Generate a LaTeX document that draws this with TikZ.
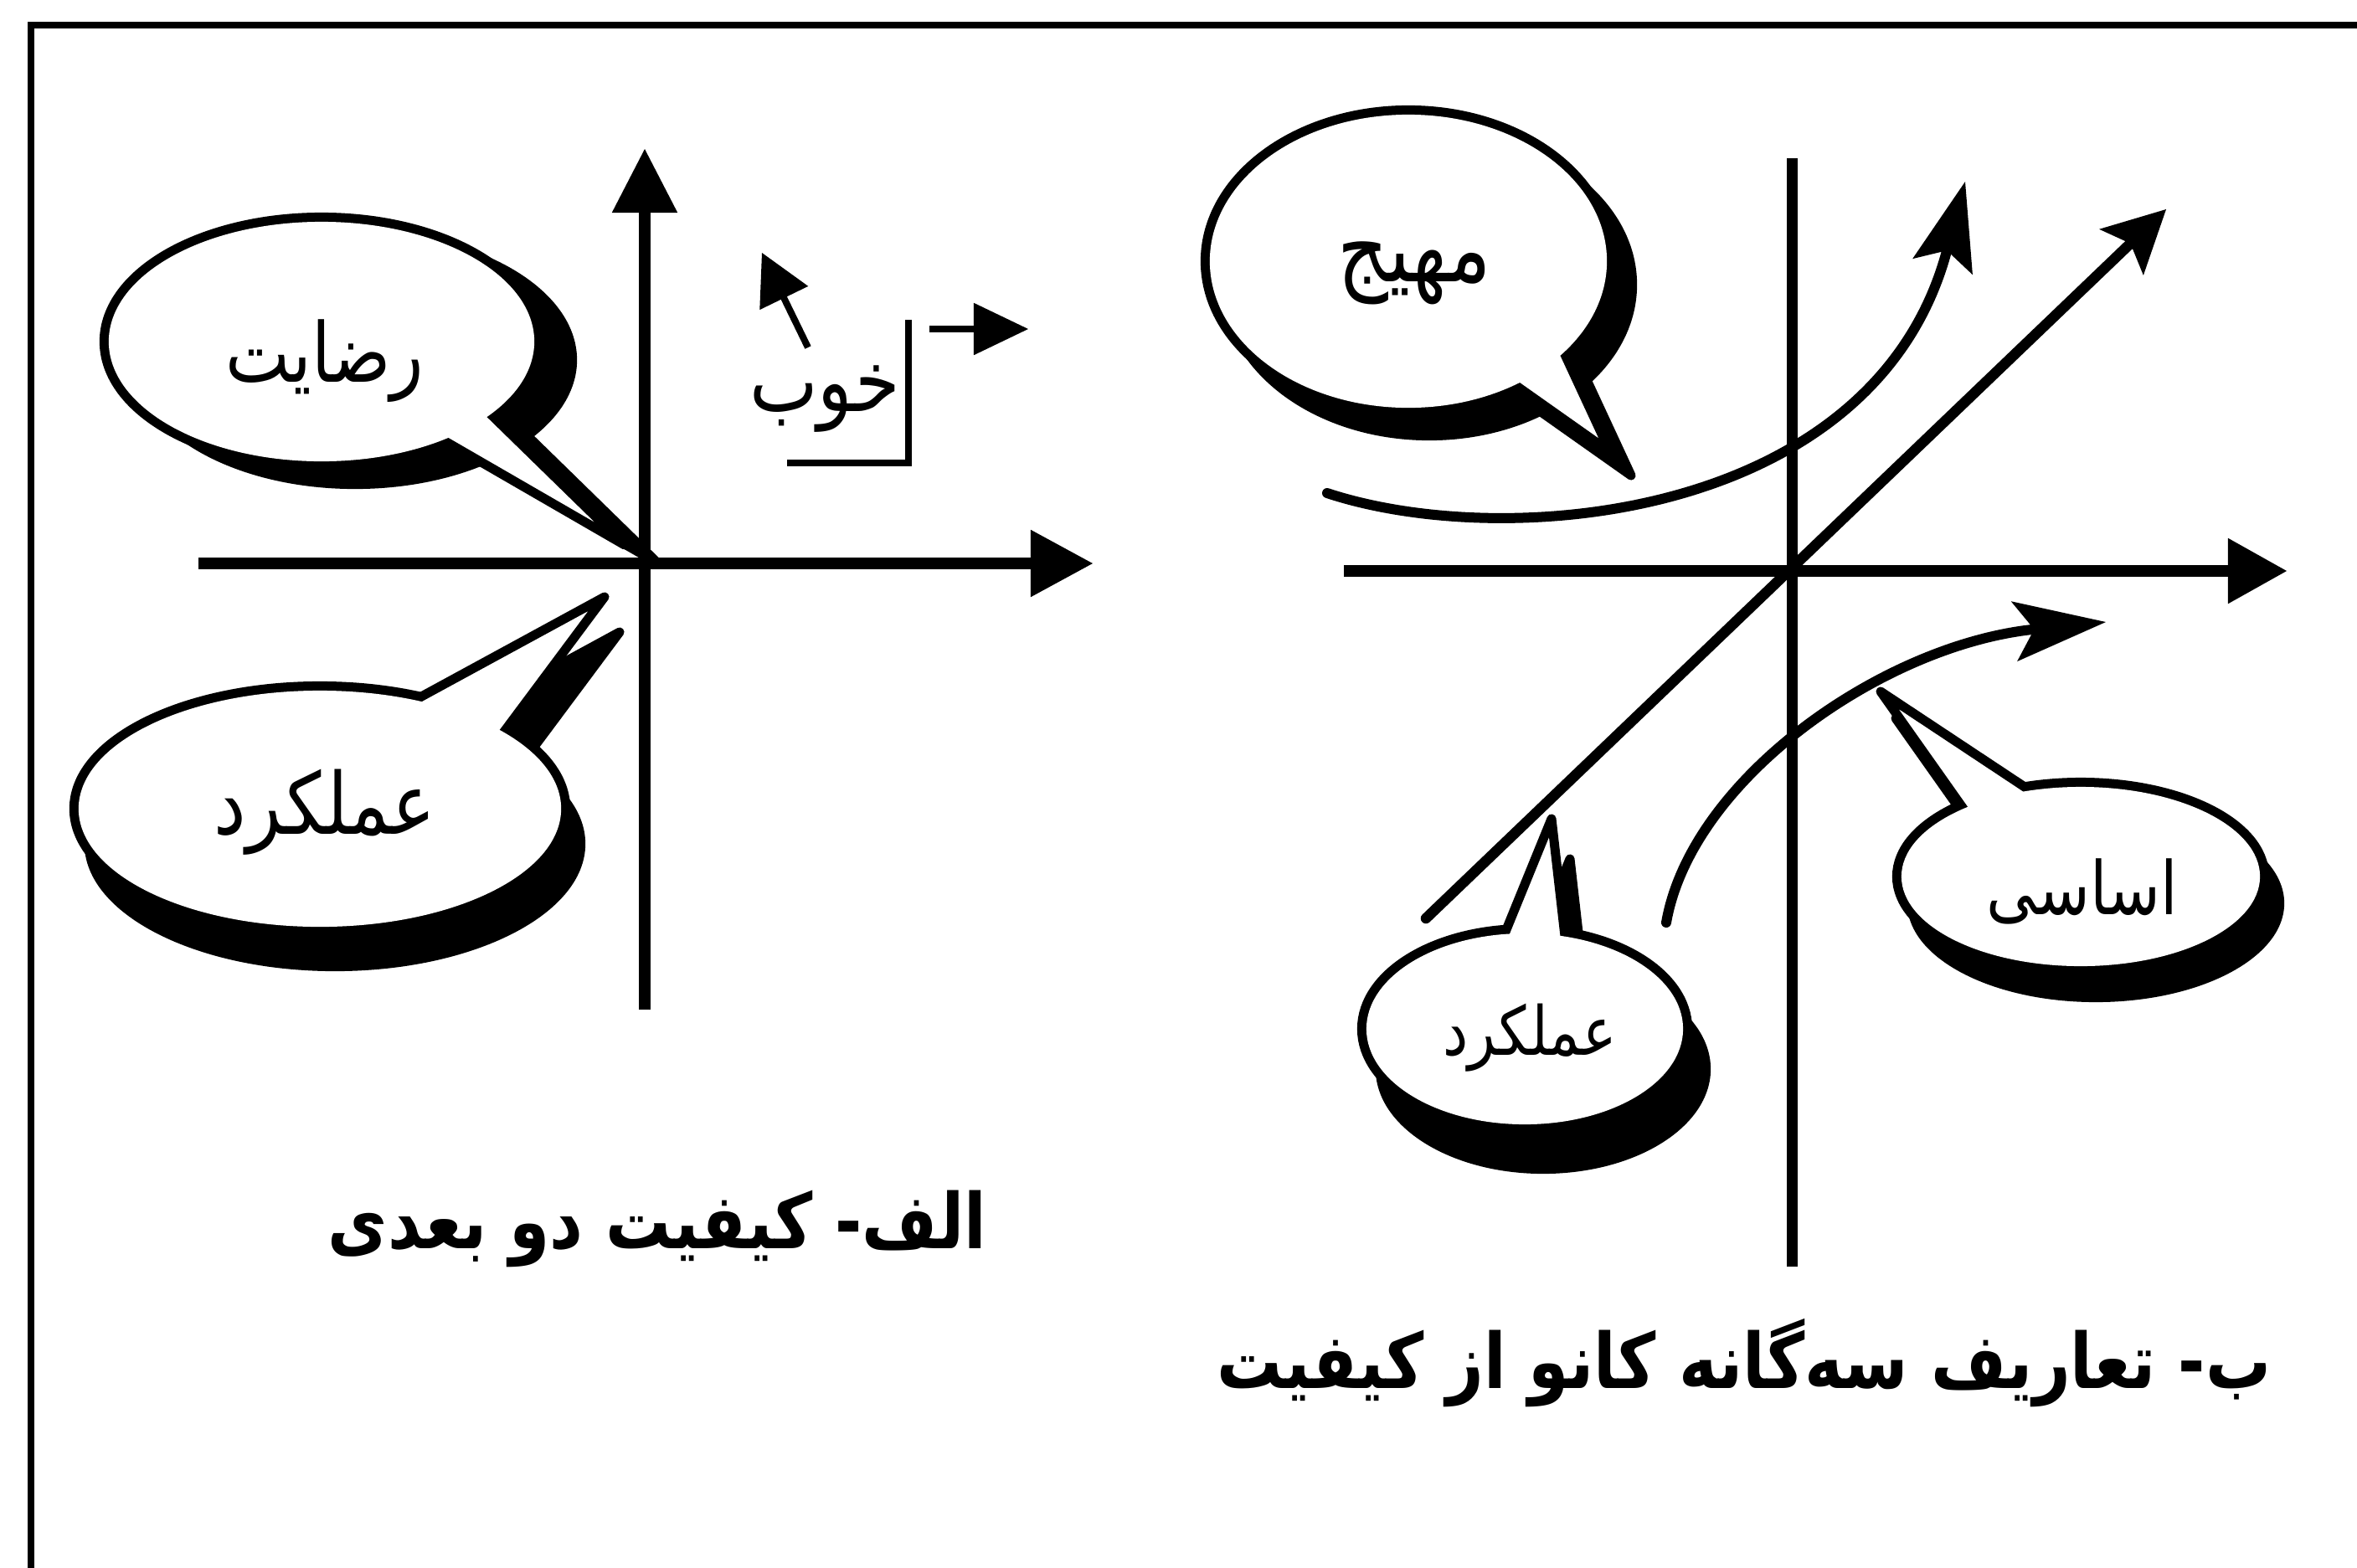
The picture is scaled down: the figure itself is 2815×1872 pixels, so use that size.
\documentclass[tikz,border=0pt]{standalone}
\usepackage{fontspec}
\usepackage{graphicx}
\usetikzlibrary{arrows.meta,calc}
\TeXXeTstate=1
\newfontfamily\arabicfont[Script=Arabic]{DejaVu Sans}
\tikzset{
  axisline/.style={line width=0.14cm},
  thinline/.style={line width=0.08cm},
  curveline/.style={line width=0.12cm, line cap=round},
  bubbletext/.style={inner sep=0pt, font={\arabicfont\fontsize{29}{33}\selectfont}},
  captiontext/.style={inner sep=0pt, font={\arabicfont\bfseries\fontsize{26}{30}\selectfont}},
}
% #1 centre, #2 x radius, #3 y radius, #4 tail base left, #5 tail tip, #6 tail base right, #7 shadow shift
\newcommand\spbubble[7]{%
  \begin{scope}[shift={#7}]
    \fill[black] #1 ellipse[x radius=#2+0.11cm, y radius=#3+0.11cm];
    \filldraw[black,line width=0.11cm,line join=round] ($#5!1.4!#4$) -- #5 -- ($#5!1.4!#6$) -- cycle;
  \end{scope}
  \draw[line width=0.22cm] #1 ellipse[x radius=#2, y radius=#3];
  \fill[white] ($#5!1.4!#4$) -- #5 -- ($#5!1.4!#6$) -- cycle;
  \draw[line width=0.11cm,line join=round,line cap=round] ($#5!1.4!#4$) -- #5 -- ($#5!1.4!#6$);
  \fill[white] #1 ellipse[x radius=#2, y radius=#3];
}
\begin{document}
\begin{tikzpicture}[x=0.01cm,y=-0.01cm]
\fill[white] (0,0) rectangle (2815,1872);
\useasboundingbox (0,0) rectangle (2815,1872);
% frame
\coordinate (fr-bl) at (37,1890);
\coordinate (fr-tl) at (37,30);
\coordinate (fr-tr) at (2830,30);
\draw[line width=0.085cm] (fr-bl) -- (fr-tl) -- (fr-tr);

% ---------- left chart ----------
\coordinate (A-top) at (770,178);
\coordinate (A-bot) at (770,1206);
\coordinate (A-left) at (237,673);
\coordinate (A-right) at (1305,673);
\draw[axisline,-{Triangle[length=0.76cm,width=0.78cm,line width=0.5pt]}] (A-bot) -- (A-top);
\draw[axisline,-{Triangle[length=0.74cm,width=0.8cm,line width=0.5pt]}] (A-left) -- (A-right);

\spbubble{(384,408)}{2.54cm}{1.43cm}{(509,514)}{(746,651)}{(576,485)}{(40,22)}
\node[bubbletext,font={\arabicfont\fontsize{28}{32}\selectfont}] (t-reza) at (388,431) {\scalebox{0.83}[1]{\beginR رضایت\endR}};

\spbubble{(382,966)}{2.88cm}{1.41cm}{(496,836)}{(722,713)}{(605,870)}{(18,42)}
\node[bubbletext] (t-amal1) at (388,970) {\scalebox{0.85}[1]{\beginR عملکرد\endR}};

% good
\node[bubbletext] (t-khub) at (985,477) {\scalebox{0.85}[1]{\beginR خوب\endR}};
\coordinate (br-a) at (940,553);
\coordinate (br-b) at (1085,553);
\coordinate (br-c) at (1085,382);
\draw[thinline] (br-a) -- (br-b) -- (br-c);
\coordinate (ga-s) at (1110,393);
\coordinate (ga-e) at (1228,393);
\draw[thinline,-{Triangle[length=0.65cm,width=0.62cm,line width=0.5pt]}] (ga-s) -- (ga-e);
\coordinate (gd-s) at (965,415);
\coordinate (gd-e) at (910,302);
\draw[thinline,-{Triangle[length=0.6cm,width=0.64cm,line width=0.5pt]}] (gd-s) -- (gd-e);

\node[captiontext] (cap-a) at (785,1468) {\scalebox{0.85}[1]{\beginR الف- کیفیت دو بعدی\endR}};

% ---------- right chart ----------
\coordinate (B-top) at (2140,189);
\coordinate (B-bot) at (2140,1513);
\coordinate (B-left) at (1605,682);
\coordinate (B-right) at (2731,682);
\draw[line width=0.13cm] (B-bot) -- (B-top);
\draw[axisline,-{Triangle[length=0.7cm,width=0.78cm,line width=0.5pt]}] (B-left) -- (B-right);

\coordinate (D-s) at (1703,1097);
\coordinate (D-e) at (2587,250);
\draw[line width=0.125cm,line cap=round,-{Stealth[length=0.74cm,width=0.76cm,inset=0.15cm,line width=0.5pt]}] (D-s) -- (D-e);

\coordinate (U-s) at (1585,589);
\coordinate (U-e) at (2347,217);
\draw[curveline,-{Stealth[length=1.05cm,width=0.74cm,inset=0.2cm,line width=0.5pt]}] (U-s) .. controls (1800,660) and (2240,620) .. (U-e);

\coordinate (L-s) at (1990,1102);
\coordinate (L-e) at (2515,743);
\draw[curveline,-{Stealth[length=1.1cm,width=0.72cm,inset=0.24cm,line width=0.5pt]}] (L-s) .. controls (2020,930) and (2250,770) .. (L-e);

\spbubble{(1682,312)}{2.37cm}{1.75cm}{(1797,451)}{(1923,540)}{(1865,415)}{(25,28)}
\node[bubbletext,font={\arabicfont\fontsize{32}{36}\selectfont}] (t-mohij) at (1689,326) {\scalebox{0.84}[1]{\beginR مهیج\endR}};

\spbubble{(2485,1047)}{2.14cm}{1.07cm}{(2347,969)}{(2246,826)}{(2415,938)}{(18,32)}
\node[bubbletext,font={\arabicfont\fontsize{25}{29}\selectfont}] (t-asasi) at (2487,1065) {\scalebox{0.84}[1]{\beginR اساسی\endR}};

\spbubble{(1821,1229)}{1.89cm}{1.14cm}{(1798,1113)}{(1853,978)}{(1870,1127)}{(22,48)}
\node[bubbletext,font={\arabicfont\fontsize{23}{27}\selectfont}] (t-amal2) at (1827,1240) {\scalebox{0.84}[1]{\beginR عملکرد\endR}};

\node[captiontext] (cap-b) at (2083,1628) {\scalebox{0.85}[1]{\beginR ب- تعاریف سه^^^^200cگانه کانو از کیفیت\endR}};
\end{tikzpicture}
\end{document}
